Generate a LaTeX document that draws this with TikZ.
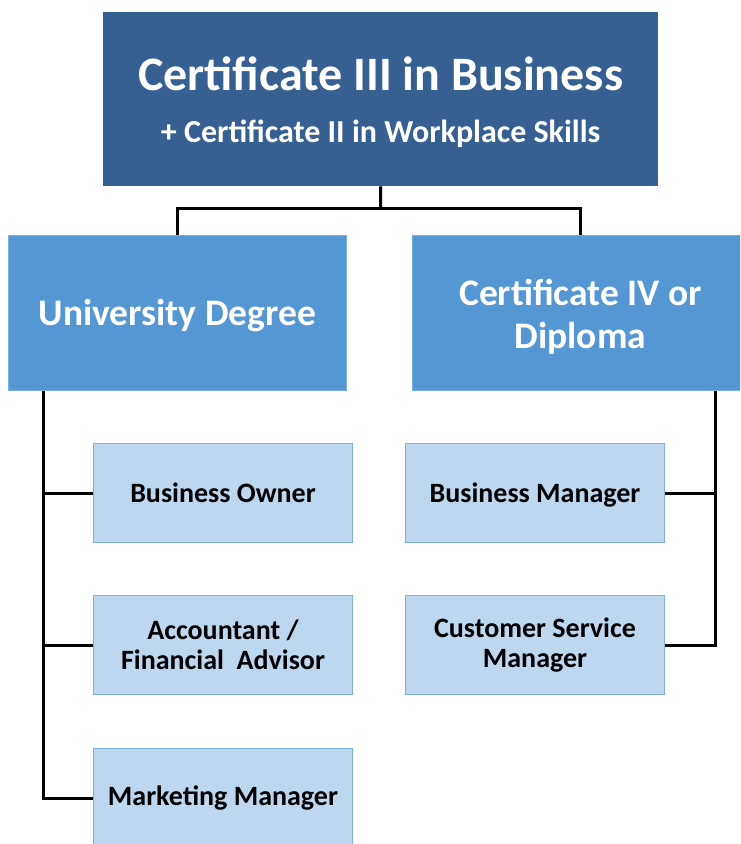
\documentclass[tikz,border=0pt]{standalone}
\usepackage{fontspec}
\setmainfont{Carlito}
\definecolor{topblue}{HTML}{376092}
\definecolor{midblue}{HTML}{5497D3}
\definecolor{midedge}{HTML}{79AEE0}
\definecolor{leaffill}{HTML}{BDD7EE}
\definecolor{leafedge}{HTML}{7EB0E2}
\begin{document}
\begin{tikzpicture}[x=1pt,y=-1pt,
  topbox/.style={fill=topblue,draw=none,anchor=north west,inner sep=0pt,
    minimum width=555pt,minimum height=174pt,text=white,align=center,
    font=\fontsize{48}{52}\selectfont\bfseries},
  midbox/.style={fill=midblue,draw=midedge,line width=0.8pt,anchor=north west,inner sep=0pt,
    minimum width=338pt,minimum height=155pt,text=white,align=center,
    font=\fontsize{37.5}{43}\selectfont\bfseries},
  leafbox/.style={fill=leaffill,draw=leafedge,line width=1pt,anchor=north west,inner sep=0pt,
    minimum width=259pt,minimum height=99pt,text=black,align=center,
    font=\fontsize{28}{30}\selectfont\bfseries},
  conn/.style={draw=black,line width=3pt}]
\clip (0,0) rectangle (740,844);
\fill[white] (0,0) rectangle (740,844);
\node[topbox] (top) at (103,12)
  {\rule{0pt}{40pt}Certificate III in Business\\
   \fontsize{32}{40}\selectfont + Certificate II in Workplace Skills};
\node[midbox] (uni) at (8,235) {\rule{0pt}{32pt}University Degree};
\node[midbox,minimum width=336pt] (cert) at (412,235) {\rule{0pt}{35pt}Certificate IV or\\Diploma};
\node[leafbox] (bo) at (93,443) {Business Owner};
\node[leafbox] (acc) at (93,595) {Accountant /\\Financial\ \ Advisor};
\node[leafbox] (mm) at (93,748) {Marketing Manager};
\node[leafbox] (bm) at (405,443) {\rule{0pt}{23pt}Business Manager};
\node[leafbox] (csm) at (405,595) {Customer Service\\Manager};
\coordinate (j) at (380.5,208);
\draw[conn] (top.south) -- (j);
\draw[conn] (uni.north) |- (j) -| (cert.north);
\coordinate (lbus) at ([xshift=35pt]uni.south west);
\draw[conn] (lbus) |- (mm.west);
\draw[conn] (lbus |- bo.west) -- (bo.west);
\draw[conn] (lbus |- acc.west) -- (acc.west);
\coordinate (rbus) at ([xshift=303.5pt]cert.south west);
\draw[conn] (rbus) |- (csm.east);
\draw[conn] (rbus |- bm.east) -- (bm.east);
\end{tikzpicture}
\end{document}
